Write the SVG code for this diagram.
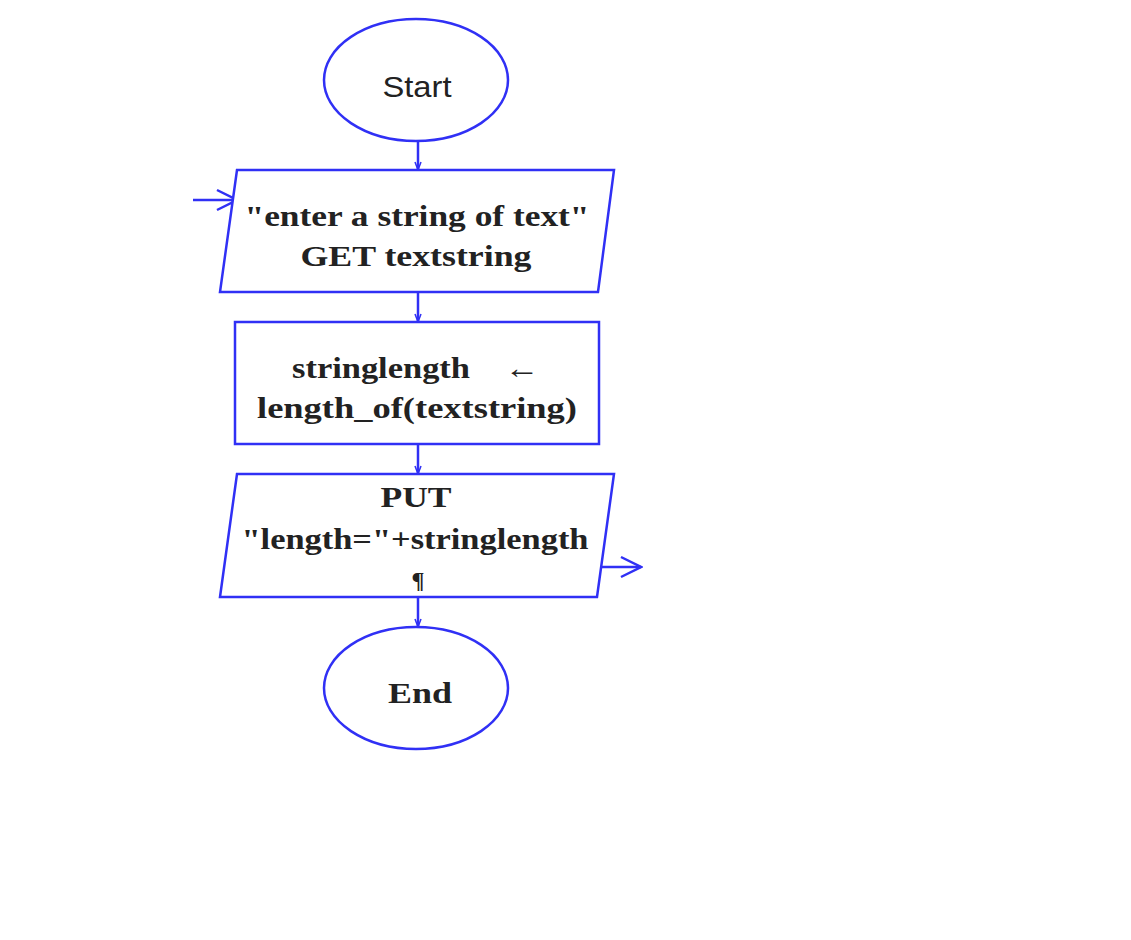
<svg xmlns="http://www.w3.org/2000/svg" width="1131" height="940" viewBox="0 0 1131 940">
<style>
.s{fill:#fff;stroke:#3030f5;stroke-width:2.5}
.c{fill:none;stroke:#3030f5;stroke-width:2.5}
.t{font-family:"Liberation Serif",serif;font-size:30px;font-weight:bold;fill:#222;text-anchor:middle}
</style>
<defs>
<marker id="sm" markerWidth="10" markerHeight="8" refX="9" refY="4" orient="auto" markerUnits="userSpaceOnUse">
<path d="M1,1 L9,4 L1,7" fill="none" stroke="#3030f5" stroke-width="1.5"/>
</marker>
<marker id="op" markerWidth="24" markerHeight="24" refX="22" refY="12" orient="auto" markerUnits="userSpaceOnUse">
<path d="M2,2 L22,12 L2,22" fill="none" stroke="#3030f5" stroke-width="2.5"/>
</marker>
</defs>
<rect width="1131" height="940" fill="#fff"/>
<g id="connectors">
<line class="c" x1="418" y1="141" x2="418" y2="170" marker-end="url(#sm)"/>
<line class="c" x1="418" y1="292" x2="418" y2="322" marker-end="url(#sm)"/>
<line class="c" x1="418" y1="444" x2="418" y2="474" marker-end="url(#sm)"/>
<line class="c" x1="418" y1="597" x2="418" y2="627" marker-end="url(#sm)"/>
<line class="c" x1="193" y1="200" x2="237" y2="200" marker-end="url(#op)"/>
<line class="c" x1="597" y1="567" x2="641" y2="567" marker-end="url(#op)"/>
</g>
<g id="start">
<ellipse class="s" cx="416" cy="80" rx="92" ry="61"/>
<text class="t" x="417" y="97" style="font-family:'Liberation Sans',sans-serif;font-size:29px;font-weight:normal" textLength="69" lengthAdjust="spacingAndGlyphs">Start</text>
</g>
<g id="input">
<polygon class="s" points="237,170 614,170 598,292 220,292"/>
<text class="t" x="417" y="226" textLength="345" lengthAdjust="spacingAndGlyphs">"enter a string of text"</text>
<text class="t" x="416" y="266" textLength="231" lengthAdjust="spacingAndGlyphs">GET textstring</text>
</g>
<g id="process">
<rect class="s" x="235" y="322" width="364" height="122"/>
<text class="t" x="381" y="378" textLength="178" lengthAdjust="spacingAndGlyphs">stringlength</text>
<text class="t" x="522" y="378" textLength="35" lengthAdjust="spacingAndGlyphs" style="font-weight:normal">←</text>
<text class="t" x="417" y="418" textLength="320" lengthAdjust="spacingAndGlyphs">length_of(textstring)</text>
</g>
<g id="output">
<polygon class="s" points="237,474 614,474 597,597 220,597"/>
<text class="t" x="416" y="507" textLength="71" lengthAdjust="spacingAndGlyphs">PUT</text>
<text class="t" x="415" y="549" textLength="347" lengthAdjust="spacingAndGlyphs">"length="+stringlength</text>
<text class="t" x="418" y="588" style="font-size:24px">¶</text>
</g>
<g id="end">
<ellipse class="s" cx="416" cy="688" rx="92" ry="61"/>
<text class="t" x="420" y="703" textLength="64" lengthAdjust="spacingAndGlyphs">End</text>
</g>
</svg>
